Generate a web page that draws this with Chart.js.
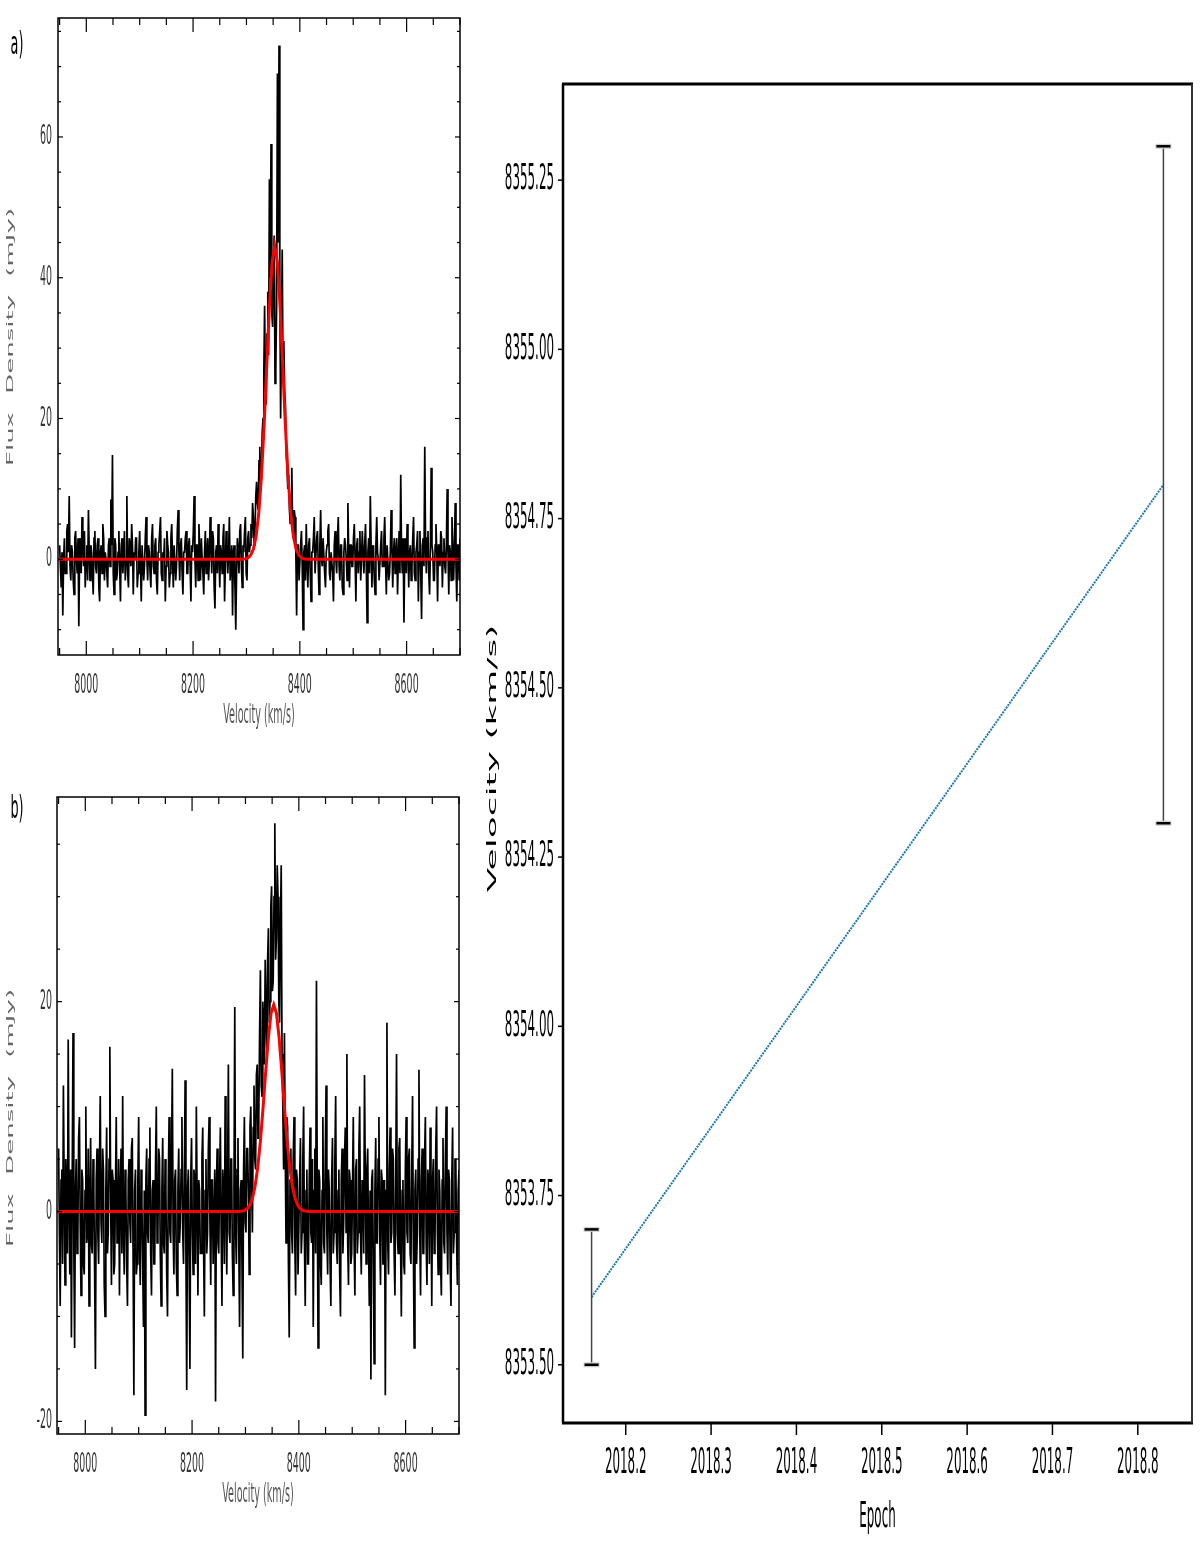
<!DOCTYPE html>
<html>
<head>
<meta charset="utf-8">
<title>Maser spectra and velocity drift</title>
<script src="https://cdn.jsdelivr.net/npm/chart.js"></script>
<style>
  html, body { margin: 0; padding: 0; background: #fff; overflow: hidden; }
  body { width: 1200px; height: 1543px; position: relative; }
  canvas { position: absolute; left: 0; top: 0; width: 1200px; height: 1543px; }
</style>
</head>
<body>
<canvas id="specA" width="1200" height="1543"></canvas>
<canvas id="specB" width="1200" height="1543"></canvas>
<canvas id="drift" width="1200" height="1543"></canvas>

<script>
// ---- data ----
// spectra channels: 7950 .. 8700 km/s, 1.5 km/s apart (20 channels per row below)
const chanStart = 7950;
const chanStep = 1.5;

// panel a) flux density (mJy)
const fluxA = [
  2, -1, -4, 1, -8, 0, 3, -2, -2, 4, 5, 1, 9, -1, -3, 2, 1, -3, -5, 3,
  4, 0, -2, 3, -9.5, 1, 3, -2, 6, 2, -1, 4, -4, 0, 2, -3, 7, 1, -3, 2,
  1, -2, -5, 3, 4, -1, -2, 2, 3, -4, -6, 1, 2, -2, 5, 3, -3, 1, 0, -2,
  -4, 2, 3, -1, 8.5, 2, 14.8, -2, -5, 3, 2, -3, -2, 1, 4, -1, -6, 2, 3, -2,
  1, 4, -3, 0, 9, -2, -4, 3, 2, -1, 5, 2, -5, 1, 0, 3, 3, -4, -2, 1,
  4, -1, -6, 2, 2, -3, -1, 3, 6, 0, -3, 2, 1, -2, -4, 3, 5, -1, -2, 2,
  3, -3, -5, 1, 2, 4, 6, -2, -3, 1, 0, 3, -6, -1, 4, 2, 1, -4, -2, 3,
  5, 0, -4, 2, 2, -3, -1, 4, 7, 1, -3, 2, 3, -2, -5, 1, 1, 3, 4, -2,
  -2, 2, 3, -1, -6, 2, 1, 4, 9, 0, -4, 2, 2, -3, 5, 1, -3, 3, 0, -2,
  -5, 1, 4, -2, 1, 3, -3, 0, 6, 2, -2, 4, 3, -4, -7, 1, 2, -2, 5, 1,
  -4, 2, 1, -2, 3, 5, -6, -1, 4, 2, -2, 1, 6, -3, -3, 2, -8, 1, 2, -4,
  -10, -2, 3, 1, -2, 4, 5, -1, -4, 2, 1, 4, 6, -2, -3, 3, 4, 1, 2, 5,
  3, 8, 6, 2, 4, 9, 11, 8, 7, 14, 16, 10, 12, 18, 20, 26, 36, 24, 22, 32,
  38, 29, 54, 40, 59, 35, 33, 42, 46, 25, 27, 36, 69, 45, 73, 38, 20, 31, 44, 26,
  31, 24, 22, 15, 13, 10, 12, 7, 5, 9, 13, 4, 3, 7, 6, 1, -8, 2, 2, -3,
  -3, 2, 4, -1, -10, 1, 2, -3, 5, 0, -4, 2, 3, -2, -6, 1, 1, 3, 6, -2,
  -2, 3, 4, -1, -5, 2, 7, 0, -1, 3, 3, -2, -4, 1, 2, 4, 5, -2, -3, 1,
  1, -2, -6, 2, 4, 0, -2, 3, 6, -1, -3, 2, 2, -4, -5, 1, 3, 2, 0, -3,
  8, 1, -4, 2, 2, -1, -1, 3, 5, 0, -6, 2, 3, -2, 1, 4, -3, 0, 4, 1,
  -2, 2, 5, -1, -9, 1, 3, -2, 9, 2, -4, 1, 2, -3, -5, 2, 6, 1, 0, -3,
  -3, 2, 4, -1, -1, 3, 6, 0, -5, 2, 2, -3, -2, 1, 7, 2, -4, 1, 3, -2,
  1, 3, -5, 0, 4, -2, 12, 1, -2, 3, -9, 1, 3, -2, 5, 2, -4, 1, 2, -3,
  -1, 3, 6, -2, -3, 1, 2, 4, -6, 1, 4, -2, -8.5, 2, 3, -1, 16, 2, -2, 3,
  4, -2, -5, 1, 13, 2, 1, -3, -3, 2, 5, 1, -6, 2, 2, -1, 4, 3, -4, 1,
  3, -1, -2, 2, 10, 1, -5, 2, 1, -3, 6, 2, -3, 1, 8, -1, -6, 2, 2, -3,
  3
];

// panel b) flux density (mJy)
const fluxB = [
  6, -2, -9, 3, 4, -5, 12, 2, -7, 5, 2, -4, 16.4, 1, -6, 4, -12, 3, 17, -3,
  -13, 2, 5, -4, -3, 7, 9, -1, -8, 4, 3, -5, -6, 2, 10, -3, -2, 6, -9, 1,
  7, -3, -4, 5, 2, -6, -15, 3, 6, -2, -5, 4, 11, -1, -3, 6, 4, -7, -10, 2,
  8, -4, -2, 5, 15.7, 1, -7, 4, 3, -6, -5, 2, 9, -3, -1, 5, -8, 2, 6, -4,
  11, -2, -6, 4, 2, -5, -9, 3, 5, -1, -3, 6, 7, -4, -17.5, 2, 4, -6, -5, 3,
  9, -3, -7, 4, 1, -5, -11, 2, -19.4, 3, 6, -2, -3, 5, 8, -4, -8, 2, 3, -5,
  -5, 4, 10, -3, -2, 6, 5, -4, -9, 2, 7, -3, -4, 5, 2, -6, -10, 3, 9, -2,
  -3, 5, 13.6, -2, -6, 3, 4, -5, -8, 2, 6, -3, -1, 4, 9, -2, -5, 3, 12.5, -4,
  -17, 2, 4, -5, -15, 3, 7, -2, -6, 4, 3, -5, 10, 1, -8, 3, 2, -4, -4, 5,
  8, -3, -10, 2, 5, -4, -2, 6, 9, -1, -7, 3, 3, -5, -5, 4, -18.1, 2, 6, -3,
  -4, 3, 8, -2, -9, 4, 2, -5, 11, 1, -6, 3, 14, -2, -3, 5, 5, -4, -8, 2,
  19.5, -2, -5, 4, 7, -3, -11, 2, 3, -5, -14, 4, 9, -1, -2, 6, 6, 2, -6, 8,
  10, 3, -2, 8, 12, 5, 4, 13, 14, 7, 9, 17, 23, 12, 11, 20, 18, 14, 24, 19,
  15, 24, 27, 18, 20, 29, 31, 21, 22, 30, 37, 24, 26, 33, 30, 20, 18, 27, 33, 15,
  10, 4, 17, 6, -3, 9, 8, -5, -12, 3, 6, -2, -4, 5, 9, -3, -8, 4, 3, -6,
  -6, 3, 7, -4, -2, 5, 10, -3, -9, 2, 4, -5, -5, 3, 8, -2, -3, 5, -11, 2,
  6, -4, 22, 2, -13, 4, 3, -5, -7, 2, 9, -3, -4, 5, 12, -2, -6, 4, 2, -5,
  -9, 3, 7, -4, -2, 5, 11, -3, -5, 2, 4, -6, -10, 3, 6, -4, -1, 5, 8, -2,
  15, -3, -7, 4, 3, -5, -4, 2, 9, -3, -8, 4, 5, -4, -2, 6, 10, -2, -6, 3,
  2, -4, 13, 3, -5, 4, 6, -3, -9, 2, -16, 3, 4, -5, -14.5, 2, 7, -3, -3, 5,
  9, -2, -7, 4, 3, -5, -5, 3, -17.5, 2, 18, -3, -6, 4, 8, -3, -2, 6, 5, -4,
  -8, 3, 15, -2, -4, 6, 7, -3, -10, 2, 3, -5, -6, 4, 9, -2, -3, 5, 6, -4,
  -5, 4, 11, -3, -13, 2, 4, -5, -2, 5, 13.5, -2, -8, 3, 6, -4, -4, 5, 9, -3,
  -7, 4, 3, -5, 8, 2, -9, 3, 5, -4, -3, 6, 10, -2, -6, 4, 2, -5, -8, 3,
  7, -3, -4, 5, 10, -2, -6, 4, 3, -5, -9, 3, 8, -4, -2, 5, 5, -3, -7, 2,
  4
];

// red gaussian fits
const fitVel = [7947, 8288, 8293, 8298, 8303, 8308, 8313, 8318, 8323, 8328, 8333, 8338, 8343, 8348, 8353,
  8358, 8363, 8368, 8373, 8378, 8383, 8388, 8393, 8398, 8403, 8408, 8413, 8418, 8700];
const fitFluxA = [0, 0, 0.02, 0.07, 0.21, 0.59, 1.46, 3.25, 6.5, 11.7, 18.9, 27.5, 35.9, 42.2, 44.5,
  42.2, 35.9, 27.5, 18.9, 11.7, 6.5, 3.25, 1.46, 0.59, 0.21, 0.07, 0.02, 0, 0];
const fitFluxB = [0, 0.01, 0.04, 0.1, 0.26, 0.6, 1.24, 2.4, 4.2, 6.7, 9.9, 13.4, 16.6, 18.9, 19.7,
  18.9, 16.6, 13.4, 9.9, 6.7, 4.2, 2.4, 1.24, 0.6, 0.26, 0.1, 0.04, 0.01, 0];

const velTicks = [8000, 8200, 8400, 8600];
const fluxTicksA = [0, 20, 40, 60];
const fluxTicksB = [-20, 0, 20];

// right panel: velocity vs epoch
const epochs = [2018.16, 2018.83];
const vlsr = [8353.60, 8354.80];
const vlsrErr = [0.10, 0.50];
const epochTicks = [2018.2, 2018.3, 2018.4, 2018.5, 2018.6, 2018.7, 2018.8];
const vlsrTicks = [8353.50, 8353.75, 8354.00, 8354.25, 8354.50, 8354.75, 8355.00, 8355.25];

// ---- helpers ----
const PAGE_W = 1200, PAGE_H = 1543;

// the whole figure is squashed sideways, so text is drawn narrow
function squeezed(ctx, text, x, y, o) {
  ctx.save();
  ctx.translate(x, y);
  ctx.scale(o.sx, 1);
  if (o.rotate) ctx.rotate(o.rotate);
  ctx.font = o.font;
  ctx.fillStyle = o.color || '#000';
  ctx.textAlign = o.align || 'center';
  ctx.textBaseline = 'middle';
  if (o.wordSpacing) ctx.wordSpacing = o.wordSpacing;
  ctx.fillText(text, 0, 0);
  ctx.restore();
}

function seg(ctx, x1, y1, x2, y2) {
  ctx.beginPath();
  ctx.moveTo(x1, y1);
  ctx.lineTo(x2, y2);
  ctx.stroke();
}

function paddingFor(area) {
  return { left: area.left, top: area.top, right: PAGE_W - area.right, bottom: PAGE_H - area.bottom };
}

// pgplot-like box: inward ticks on all four sides
function pgFrame(cfg) {
  return {
    id: 'pgFrame' + cfg.tag,
    afterDraw(chart) {
      const { ctx, chartArea: a, scales: { x, y } } = chart;
      ctx.save();
      ctx.strokeStyle = '#000';
      ctx.lineWidth = 1.5;
      ctx.strokeRect(a.left, a.top, a.right - a.left, a.bottom - a.top);

      ctx.lineWidth = 1.2;
      for (let v = Math.ceil(x.min / 50) * 50; v <= x.max; v += 50) {
        const px = x.getPixelForValue(v);
        const len = velTicks.includes(v) ? 14 : 7;
        seg(ctx, px, a.bottom, px, a.bottom - len);
        seg(ctx, px, a.top, px, a.top + len);
      }
      for (let f = Math.ceil(y.min / 5) * 5; f <= y.max; f += 5) {
        const py = y.getPixelForValue(f);
        const len = cfg.yTicks.includes(f) ? 5 : 3;
        seg(ctx, a.left, py, a.left + len, py);
        seg(ctx, a.right, py, a.right - len, py);
      }
      ctx.restore();

      const tickFont = '27px "DejaVu Sans"';
      velTicks.forEach(v => {
        squeezed(ctx, String(v), x.getPixelForValue(v), a.bottom + 31, { sx: 0.35, font: tickFont, color: '#333' });
      });
      cfg.yTicks.forEach(f => {
        squeezed(ctx, String(f), 52, y.getPixelForValue(f), { sx: 0.35, font: tickFont, color: '#333', align: 'right' });
      });
      squeezed(ctx, 'Velocity (km/s)', (a.left + a.right) / 2, a.bottom + 61,
        { sx: 0.37, font: '26px "DejaVu Sans"', color: '#555' });
      squeezed(ctx, 'Flux Density (mJy)', 11, cfg.yTitleY,
        { sx: 0.33, font: '26px "DejaVu Sans"', color: '#666', rotate: -Math.PI / 2, wordSpacing: '10px' });
      squeezed(ctx, cfg.tag, 17, cfg.tagY, { sx: 0.4, font: '32px "DejaVu Sans"', color: '#000' });
    }
  };
}

function spectrumChart(id, flux, fitFlux, area, yMin, yMax, frame) {
  const spec = flux.map((f, i) => ({ x: chanStart + i * chanStep, y: f }));
  const fit = fitVel.map((v, i) => ({ x: v, y: fitFlux[i] }));
  return new Chart(document.getElementById(id), {
    type: 'line',
    data: {
      datasets: [
        { data: fit, borderColor: '#ff0000', borderWidth: 3, pointRadius: 0, tension: 0 },
        { data: spec, borderColor: '#000', borderWidth: 1.7, pointRadius: 0, tension: 0 }
      ]
    },
    options: {
      responsive: false,
      animation: false,
      devicePixelRatio: 1,
      layout: { padding: paddingFor(area) },
      plugins: { legend: { display: false }, tooltip: { enabled: false } },
      scales: {
        x: { type: 'linear', display: false, min: 7947, max: 8700 },
        y: { type: 'linear', display: false, min: yMin, max: yMax }
      }
    },
    plugins: [frame]
  });
}

spectrumChart('specA', fluxA, fitFluxA, { left: 58, right: 460, top: 18, bottom: 655 }, -13.6, 76.9,
  pgFrame({ tag: 'a)', tagY: 46, yTicks: fluxTicksA, yTitleY: 337 }));
spectrumChart('specB', fluxB, fitFluxB, { left: 57, right: 459, top: 797, bottom: 1434 }, -21.2, 39.5,
  pgFrame({ tag: 'b)', tagY: 810, yTicks: fluxTicksB, yTitleY: 1118 }));

// ---- right panel ----
const errorBars = {
  id: 'errorBars',
  afterDatasetsDraw(chart) {
    const { ctx, scales: { x, y } } = chart;
    ctx.save();
    epochs.forEach((e, i) => {
      const px = x.getPixelForValue(e);
      const top = y.getPixelForValue(vlsr[i] + vlsrErr[i]);
      const bot = y.getPixelForValue(vlsr[i] - vlsrErr[i]);
      ctx.strokeStyle = '#444';
      ctx.lineWidth = 1.5;
      seg(ctx, px, top, px, bot);
      [top, bot].forEach(py => {
        ctx.strokeStyle = '#cfcfcf';
        ctx.lineWidth = 5;
        seg(ctx, px - 8, py, px + 8, py);
        ctx.strokeStyle = '#000';
        ctx.lineWidth = 2.5;
        seg(ctx, px - 7, py, px + 7, py);
      });
    });
    ctx.restore();
  }
};

const mplFrame = {
  id: 'mplFrame',
  afterDraw(chart) {
    const { ctx, chartArea: a, scales: { x, y } } = chart;
    ctx.save();
    ctx.strokeStyle = '#000';
    ctx.lineWidth = 3;
    seg(ctx, a.left - 1, a.top, a.right + 1, a.top);
    seg(ctx, a.left - 1, a.bottom, a.right + 1, a.bottom);
    ctx.lineWidth = 2.5;
    seg(ctx, a.left, a.top, a.left, a.bottom);
    ctx.strokeStyle = '#333';
    ctx.lineWidth = 2;
    seg(ctx, a.right, a.top, a.right, a.bottom);

    ctx.strokeStyle = '#000';
    ctx.lineWidth = 1.5;
    epochTicks.forEach(t => {
      const px = x.getPixelForValue(t);
      seg(ctx, px, a.bottom, px, a.bottom + 12);
    });
    vlsrTicks.forEach(t => {
      const py = y.getPixelForValue(t);
      seg(ctx, a.left, py, a.left - 5, py);
    });
    ctx.restore();

    const font = '36px "DejaVu Sans"';
    epochTicks.forEach(t => {
      squeezed(ctx, t.toFixed(1), x.getPixelForValue(t), a.bottom + 41, { sx: 0.33, font });
    });
    vlsrTicks.forEach(t => {
      squeezed(ctx, t.toFixed(2), a.left - 9, y.getPixelForValue(t), { sx: 0.33, font, align: 'right' });
    });
    squeezed(ctx, 'Epoch', (a.left + a.right) / 2, a.bottom + 95, { sx: 0.33, font });
    squeezed(ctx, 'Velocity (km/s)', 493, (a.top + a.bottom) / 2 + 5,
      { sx: 0.32, font, rotate: -Math.PI / 2 });
  }
};

new Chart(document.getElementById('drift'), {
  type: 'line',
  data: {
    datasets: [{
      data: epochs.map((e, i) => ({ x: e, y: vlsr[i] })),
      borderColor: '#1f77b4',
      borderWidth: 2,
      borderDash: [2, 1],
      pointRadius: 0,
      tension: 0
    }]
  },
  options: {
    responsive: false,
    animation: false,
    devicePixelRatio: 1,
    layout: { padding: paddingFor({ left: 563, right: 1192, top: 84, bottom: 1423 }) },
    plugins: { legend: { display: false }, tooltip: { enabled: false } },
    scales: {
      x: { type: 'linear', display: false, min: 2018.1265, max: 2018.8635 },
      y: { type: 'linear', display: false, min: 8353.414, max: 8355.392 }
    }
  },
  plugins: [errorBars, mplFrame]
});
</script>
</body>
</html>
